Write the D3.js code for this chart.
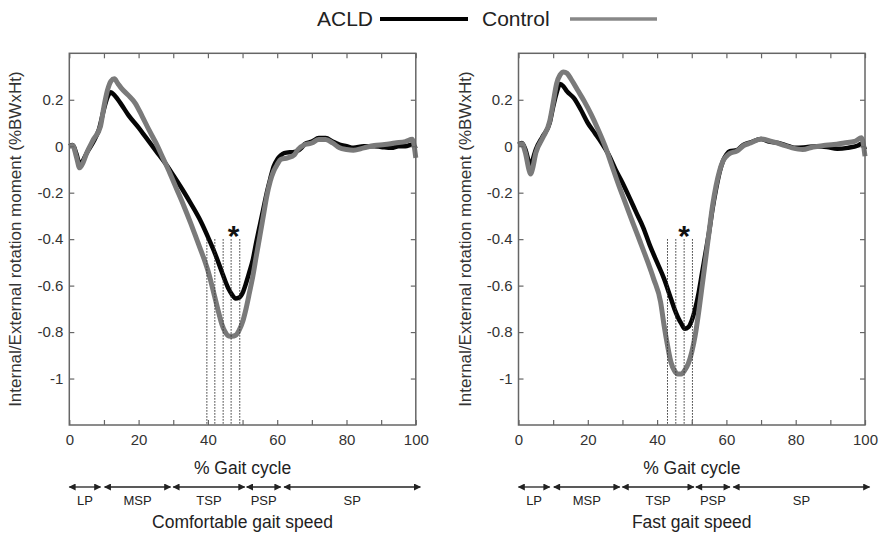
<!DOCTYPE html>
<html lang="en">
<head>
<meta charset="utf-8">
<title>Rotation moment - ACLD vs Control</title>
<script src="https://d3js.org/d3.v7.min.js"></script>
<style>
  body { margin: 0; background: #fff; }
  text { font-family: "Liberation Sans", Arial, sans-serif; }
</style>
</head>
<body>
<script>
// values: [% gait cycle, moment (%BWxHt)]
var comfortAcld = [[0,0],[1,0.005],[2,-0.03],[3,-0.075],[4,-0.06],[5,-0.03],[7,0.02],[8.5,0.07],[10,0.16],[11,0.21],[12,0.232],[13,0.22],[15,0.18],[17,0.135],[20,0.08],[22,0.04],[25,-0.02],[28,-0.08],[30,-0.125],[33,-0.195],[35,-0.245],[38,-0.325],[40,-0.39],[42,-0.46],[44,-0.54],[45,-0.58],[46,-0.615],[47,-0.64],[48,-0.655],[49,-0.652],[50,-0.632],[51,-0.59],[52,-0.54],[53,-0.486],[54,-0.41],[55,-0.34],[56,-0.27],[57,-0.2],[58,-0.14],[59,-0.086],[60,-0.057],[61,-0.04],[62,-0.03],[64,-0.026],[65,-0.025],[67,-0.007],[68,0.01],[70,0.02],[72,0.035],[74,0.035],[76,0.02],[78,0.007],[80,0],[82,-0.007],[85,0],[88,0],[90,-0.003],[93,-0.007],[95,0],[97,0],[99,0.007],[100,-0.01]];
var comfortCtrl = [[0,0],[1,0.003],[2,-0.043],[3,-0.093],[4,-0.07],[5,-0.03],[7,0.03],[9,0.086],[10,0.17],[11,0.24],[12,0.28],[13,0.29],[14,0.27],[15,0.25],[17,0.22],[19,0.186],[21,0.13],[23,0.07],[25,0.014],[27,-0.05],[29,-0.115],[31,-0.185],[33,-0.255],[35,-0.33],[37,-0.41],[39,-0.49],[40,-0.535],[41,-0.59],[42,-0.65],[43,-0.71],[44,-0.765],[45,-0.8],[46,-0.817],[47,-0.818],[48,-0.814],[49,-0.793],[50,-0.757],[51,-0.7],[52,-0.63],[53,-0.557],[54,-0.47],[55,-0.386],[56,-0.3],[57,-0.214],[58,-0.15],[59,-0.107],[60,-0.079],[61,-0.057],[63,-0.05],[65,-0.036],[66,-0.014],[68,0.007],[70,0.014],[72,0.029],[74,0.029],[76,0.014],[78,-0.007],[80,-0.014],[82,-0.017],[85,-0.007],[88,0.003],[91,0.007],[94,0.014],[97,0.02],[99,0.03],[100,-0.05]];

var fastAcld = [[0,0.007],[1,0.014],[2,-0.014],[3,-0.07],[3.5,-0.093],[4,-0.064],[5,-0.014],[7,0.043],[9,0.1],[10,0.17],[11,0.23],[12,0.268],[13,0.257],[14,0.236],[16,0.207],[18,0.157],[20,0.1],[22,0.057],[24,0.014],[26,-0.036],[28,-0.1],[30,-0.157],[32,-0.22],[34,-0.286],[36,-0.35],[38,-0.43],[40,-0.5],[42,-0.57],[44,-0.657],[45,-0.7],[46,-0.736],[47,-0.764],[48,-0.786],[49,-0.779],[50,-0.75],[51,-0.7],[52,-0.63],[53,-0.543],[54,-0.457],[55,-0.37],[56,-0.27],[57,-0.186],[58,-0.114],[59,-0.064],[60,-0.036],[61,-0.021],[63,-0.017],[65,0.007],[67,0.017],[70,0.031],[72,0.021],[75,0.014],[78,0],[80,-0.007],[83,-0.004],[86,0],[89,-0.003],[92,-0.011],[95,-0.007],[98,0.003],[99,0.011],[100,-0.014]];
var fastCtrl = [[0,0.007],[1,0.011],[2,-0.029],[3,-0.1],[3.5,-0.12],[4,-0.1],[5,-0.029],[7,0.036],[9,0.107],[10,0.186],[11,0.27],[12,0.307],[13,0.32],[14,0.314],[15,0.293],[17,0.243],[19,0.193],[21,0.136],[23,0.071],[25,0],[27,-0.086],[29,-0.171],[31,-0.25],[33,-0.33],[35,-0.407],[37,-0.486],[39,-0.571],[41,-0.67],[42,-0.77],[43,-0.857],[44,-0.93],[45,-0.966],[46,-0.98],[47,-0.98],[48,-0.964],[49,-0.936],[50,-0.886],[51,-0.814],[52,-0.714],[53,-0.6],[54,-0.486],[55,-0.37],[56,-0.257],[57,-0.171],[58,-0.107],[59,-0.064],[60,-0.043],[61,-0.031],[63,-0.021],[65,0.003],[67,0.014],[70,0.031],[73,0.021],[76,0.007],[79,-0.007],[82,-0.014],[85,-0.003],[88,0.003],[91,0.007],[94,0.014],[97,0.021],[99,0.036],[100,-0.043]];

// dotted significance lines (% gait cycle) and the star
var comfortSig = [39.7, 42, 44.4, 46.7, 49.2];
var fastSig = [43, 45.4, 47.8, 50.2];
var sigTop = -0.4;
var comfortStar = [47.4, -0.355];
var fastStar = [47.8, -0.355];

// gait phases
var phaseNames = ["LP", "MSP", "TSP", "PSP", "SP"];
var phaseStart = [0, 10.2, 30, 51.2, 62];
var phaseEnd = [9, 29.2, 50.6, 61, 101.3];

var yTicks = [-1, -0.8, -0.6, -0.4, -0.2, 0, 0.2];
var xTicks = d3.range(0, 101, 10);

var W = 886, H = 535;
var top_ = 53.3, bottom_ = 425, plotW = 346.5;
var boxColor = "#666", labelColor = "#333";

var svg = d3.select("body").append("svg")
  .attr("width", W).attr("height", H);

// arrow heads for the phase bars
var defs = svg.append("defs");
defs.append("marker").attr("id", "ah")
  .attr("viewBox", "0 0 10 10").attr("refX", 9).attr("refY", 5)
  .attr("markerUnits", "userSpaceOnUse")
  .attr("markerWidth", 8).attr("markerHeight", 7)
  .attr("orient", "auto-start-reverse")
  .append("path").attr("d", "M0,0L10,5L0,10Z").attr("fill", "#222");

// legend
var leg = svg.append("g");
leg.append("text").attr("x", 317).attr("y", 26).attr("font-size", 21).attr("fill", "#222").text("ACLD");
leg.append("line").attr("x1", 380).attr("x2", 468).attr("y1", 19).attr("y2", 19)
  .attr("stroke", "#000").attr("stroke-width", 4);
leg.append("text").attr("x", 482).attr("y", 26).attr("font-size", 21).attr("fill", "#222").text("Control");
leg.append("line").attr("x1", 570).attr("x2", 657).attr("y1", 19).attr("y2", 19)
  .attr("stroke", "#888").attr("stroke-width", 3.5);

function drawPanel(x0, acld, ctrl, sig, star, speedLabel) {
  var x = d3.scaleLinear().domain([0, 100]).range([x0, x0 + plotW]);
  var y = d3.scaleLinear().domain([-1.2, 0.4]).range([bottom_, top_]);
  var g = svg.append("g");

  var line = d3.line().x(function(d) { return x(d[0]); }).y(function(d) { return y(d[1]); })
    .curve(d3.curveMonotoneX);

  g.append("path").datum(acld).attr("d", line)
    .attr("fill", "none").attr("stroke", "#050505").attr("stroke-width", 4.5)
    .attr("stroke-linejoin", "round");
  g.append("path").datum(ctrl).attr("d", line)
    .attr("fill", "none").attr("stroke", "#7a7a7a").attr("stroke-width", 5)
    .attr("stroke-linejoin", "round");

  // dotted lines
  g.selectAll(".sig").data(sig).enter().append("line")
    .attr("x1", function(d) { return x(d); }).attr("x2", function(d) { return x(d); })
    .attr("y1", y(sigTop)).attr("y2", y(-1.2))
    .attr("stroke", "#333").attr("stroke-width", 1).attr("stroke-dasharray", "1.5,1.5");

  g.append("text").attr("x", x(star[0])).attr("y", y(star[1]) + 17)
    .attr("text-anchor", "middle").attr("font-size", 30).attr("font-weight", "bold")
    .attr("fill", "#111").text("*");

  // axes (ticks inside, MATLAB box)
  var fmtY = function(d) { return String(+d.toFixed(1)); };
  var ax = [
    g.append("g").attr("transform", "translate(0," + bottom_ + ")")
      .call(d3.axisBottom(x).tickValues(xTicks).tickFormat(function(d) { return d % 20 === 0 ? d : ""; })
        .tickSizeInner(-5).tickSizeOuter(0).tickPadding(9)),
    g.append("g").attr("transform", "translate(0," + top_ + ")")
      .call(d3.axisTop(x).tickValues(xTicks).tickFormat("").tickSizeInner(-5).tickSizeOuter(0)),
    g.append("g").attr("transform", "translate(" + x0 + ",0)")
      .call(d3.axisLeft(y).tickValues(yTicks).tickFormat(fmtY).tickSizeInner(-5).tickSizeOuter(0).tickPadding(6)),
    g.append("g").attr("transform", "translate(" + (x0 + plotW) + ",0)")
      .call(d3.axisRight(y).tickValues(yTicks).tickFormat("").tickSizeInner(-5).tickSizeOuter(0))
  ];
  ax.forEach(function(a) {
    a.select(".domain").remove();
    a.selectAll("line").attr("stroke", boxColor).attr("stroke-width", 1.2);
    a.selectAll("text").attr("font-size", 15).attr("fill", labelColor)
      .attr("font-family", "'Liberation Sans', Arial, sans-serif");
  });
  g.append("rect").attr("x", x0).attr("y", top_).attr("width", plotW).attr("height", bottom_ - top_)
    .attr("fill", "none").attr("stroke", boxColor).attr("stroke-width", 1.5);

  // y label
  g.append("text")
    .attr("transform", "translate(" + (x0 - 48) + "," + ((top_ + bottom_) / 2) + ") rotate(-90)")
    .attr("text-anchor", "middle").attr("font-size", 17).attr("fill", labelColor)
    .text("Internal/External rotation moment (%BWxHt)");

  // x label
  g.append("text").attr("x", x(50)).attr("y", 474).attr("text-anchor", "middle")
    .attr("font-size", 17.5).attr("fill", "#222").text("% Gait cycle");

  // phase bars
  var ph = g.selectAll(".phase").data(phaseNames).enter().append("g");
  ph.append("line")
    .attr("x1", function(d, i) { return x(phaseStart[i]); })
    .attr("x2", function(d, i) { return x(phaseEnd[i]); })
    .attr("y1", 487).attr("y2", 487)
    .attr("stroke", "#222").attr("stroke-width", 1.3)
    .attr("marker-start", "url(#ah)").attr("marker-end", "url(#ah)");
  ph.append("text")
    .attr("x", function(d, i) { return x((phaseStart[i] + phaseEnd[i]) / 2); })
    .attr("y", 505).attr("text-anchor", "middle").attr("font-size", 13).attr("fill", "#222")
    .text(function(d) { return d; });

  g.append("text").attr("x", x(50)).attr("y", 528).attr("text-anchor", "middle")
    .attr("font-size", 17.5).attr("fill", "#222").text(speedLabel);
}

drawPanel(69.3, comfortAcld, comfortCtrl, comfortSig, comfortStar, "Comfortable gait speed");
drawPanel(518.5, fastAcld, fastCtrl, fastSig, fastStar, "Fast gait speed");
</script>
</body>
</html>
